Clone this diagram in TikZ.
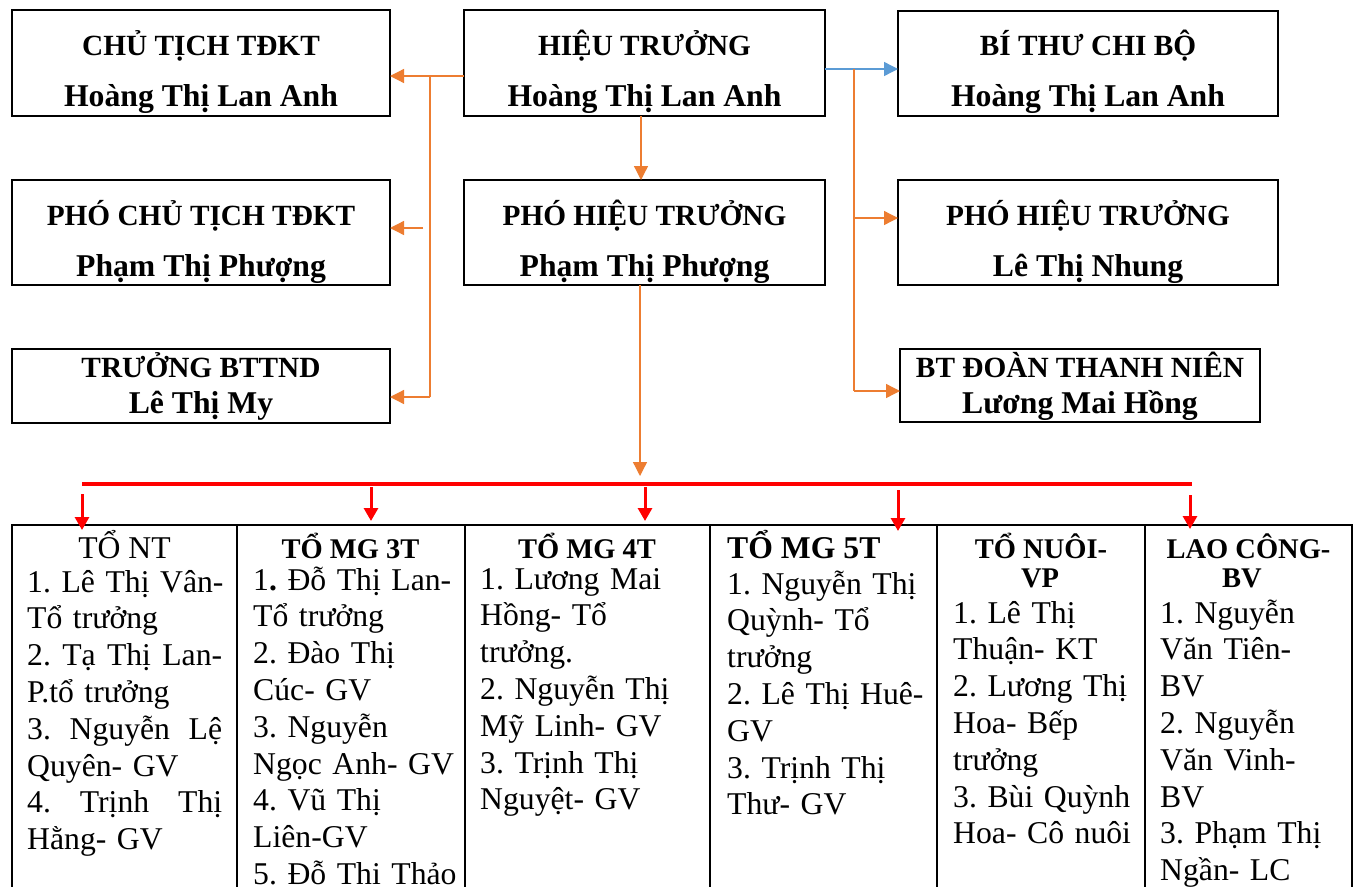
\documentclass[tikz,border=0pt]{standalone}
\usepackage{fontspec}
\setmainfont{Liberation Serif}
\usetikzlibrary{arrows.meta,calc}
\definecolor{ora}{RGB}{237,125,49}
\definecolor{blu}{RGB}{91,155,213}
\definecolor{redc}{RGB}{255,0,0}
\newcommand\jline[1]{\leavevmode\hbox to 195pt{#1}}
\newcommand\jg{\hspace{0pt plus 1fil}}
\frenchspacing
\begin{document}
\begin{tikzpicture}[x=1pt,y=-1pt,
  box/.style={draw=black,line width=2.6pt,inner sep=0pt,outer sep=0pt},
  btxt/.style={anchor=base,inner sep=0pt,font=\bfseries\fontsize{31.7}{36}\selectfont},
  bcap/.style={anchor=base,inner sep=0pt,font=\bfseries\fontsize{29.3}{36}\selectfont},
  oline/.style={draw=ora,line width=1.3pt},
  oarr/.style={oline,-{Triangle[length=14pt,width=14pt]}},
  barr/.style={draw=blu,line width=1.3pt,-{Triangle[length=14pt,width=14pt]}},
  rline/.style={draw=redc,line width=4pt},
  rarr/.style={draw=redc,line width=3pt,-{Triangle[length=13pt,width=14pt]}},
  cell/.style={draw=black,line width=1.6pt,inner sep=0pt,outer sep=0pt,anchor=north west,minimum height=420pt},
  ctxt/.style={anchor=base west,inner sep=0pt,align=left,font=\frenchspacing\fontsize{31.7}{36.8}\selectfont},
  hd/.style={anchor=base,inner sep=0pt,font=\bfseries\fontsize{28.5}{29}\selectfont}]
\useasboundingbox (0,0) rectangle (1356,886);
\fill[white] (0,0) rectangle (1356,886);

% top boxes
\node[box,minimum width=378pt,minimum height=106pt] (A) at (201,63) {};
\node[box,minimum width=361pt,minimum height=106pt] (B) at (644.5,63) {};
\node[box,minimum width=380pt,minimum height=105pt] (C) at (1088,63.5) {};
\node[box,minimum width=378pt,minimum height=105pt] (A2) at (201,232.5) {};
\node[box,minimum width=361pt,minimum height=105pt] (B2) at (644.5,232.5) {};
\node[box,minimum width=380pt,minimum height=105pt] (C2) at (1088,232.5) {};
\node[box,minimum width=378pt,minimum height=74pt] (A3) at (201,386) {};
\node[box,minimum width=360pt,minimum height=73pt] (C3) at (1080,385.5) {};

\node[bcap] (a1) at (201,55) {CHỦ TỊCH TĐKT};
\node[btxt] (a2) at (201,106) {Hoàng Thị Lan Anh};
\node[bcap] (b1) at (644.5,55) {HIỆU TRƯỞNG};
\node[btxt] (b2) at (644.5,106) {Hoàng Thị Lan Anh};
\node[bcap] (c1t) at (1088,55) {BÍ THƯ CHI BỘ};
\node[btxt] (c2t) at (1088,106) {Hoàng Thị Lan Anh};
\node[bcap] (a21) at (201,225) {PHÓ CHỦ TỊCH TĐKT};
\node[btxt] (a22) at (201,276) {Phạm Thị Phượng};
\node[bcap] (b21) at (644.5,225) {PHÓ HIỆU TRƯỞNG};
\node[btxt] (b22) at (644.5,276) {Phạm Thị Phượng};
\node[bcap] (c21) at (1088,225) {PHÓ HIỆU TRƯỞNG};
\node[btxt] (c22) at (1088,276) {Lê Thị Nhung};
\node[bcap] (a31) at (201,377) {TRƯỞNG BTTND};
\node[btxt] (a32) at (201,413) {Lê Thị My};
\node[bcap] (c31) at (1080,377) {BT ĐOÀN THANH NIÊN};
\node[btxt] (c32) at (1080,413) {Lương Mai Hồng};

% left connectors
\coordinate (jl) at (430,76);
\coordinate (jlm) at (423,228);
\coordinate (jl3) at (430,397);
\draw[oarr] (B.west |- jl) -- (A.east |- jl);
\draw[oline] (jl) -- (jl3);
\draw[oarr] (jlm) -- (A2.east |- jlm);
\draw[oarr] (jl3) -- (A3.east |- jl3);

% right connectors
\coordinate (jr) at (854,69);
\coordinate (jr2) at (854,218);
\coordinate (jr3) at (854,391);
\draw[barr] (B.east |- jr) -- (C.west |- jr);
\draw[oline] (jr) -- (jr3);
\draw[oarr] (jr2) -- (C2.west |- jr2);
\draw[oarr] (jr3) -- (C3.west |- jr3);

% middle
\coordinate (bx) at (641,0);
\draw[oarr] (B.south -| bx) -- (B2.north -| bx);
\coordinate (bus) at (640,476);
\draw[oarr] (B2.south -| bus) -- (bus);

% table cells
\node[cell,minimum width=225pt] (k1) at (12,525) {};
\node[cell,minimum width=228pt] (k2) at (237,525) {};
\node[cell,minimum width=245pt] (k3) at (465,525) {};
\node[cell,minimum width=227pt] (k4) at (710,525) {};
\node[cell,minimum width=208pt] (k5) at (937,525) {};
\node[cell,minimum width=207pt] (k6) at (1145,525) {};

% red bus
\coordinate (rb1) at (82,484);
\coordinate (rb2) at (1192,484);
\draw[rline] (rb1) -- (rb2);
\coordinate (r1s) at (82,494);   \coordinate (r1e) at (82,530);
\coordinate (r2s) at (371,487);  \coordinate (r2e) at (371,521);
\coordinate (r3s) at (645,487);  \coordinate (r3e) at (645,521);
\coordinate (r4s) at (898,490);  \coordinate (r4e) at (898,531);
\coordinate (r5s) at (1190,495); \coordinate (r5e) at (1190,529);
\draw[rarr] (r1s) -- (r1e);
\draw[rarr] (r2s) -- (r2e);
\draw[rarr] (r3s) -- (r3e);
\draw[rarr] (r4s) -- (r4e);
\draw[rarr] (r5s) -- (r5e);

% headers
\node[anchor=base,inner sep=0pt,font=\fontsize{31.7}{36}\selectfont] (h1) at (124.5,558) {TỔ NT};
\node[hd] (h2) at (350.5,558) {TỔ MG 3T};
\node[hd] (h3) at (587,558) {TỔ MG 4T};
\node[anchor=base west,inner sep=0pt,font=\bfseries\fontsize{31.7}{36}\selectfont] (h4) at (727,558) {TỔ MG 5T};
\node[hd] (h5) at (1041,558) {TỔ NUÔI-};
\node[hd] (h5b) at (1040,587) {VP};
\node[hd] (h6) at (1248.5,558) {LAO CÔNG-};
\node[hd] (h6b) at (1242,587) {BV};

% cell texts
\node[ctxt,text width=195pt] (t1) at (27,592) {\jline{1.\jg{} Lê\jg{} Thị\jg{} Vân-}\\Tổ trưởng\\\jline{2.\jg{} Tạ\jg{} Thị\jg{} Lan-}\\P.tổ trưởng\\\jline{3.\jg{} Nguyễn\jg{} Lệ}\\Quyên- GV\\\jline{4.\jg{} Trịnh\jg{} Thị}\\Hằng- GV};
\node[ctxt,text width=205pt] (t2) at (253,590) {1\textbf{.} Đỗ Thị Lan-\\Tổ trưởng\\2. Đào Thị\\Cúc- GV\\3. Nguyễn\\Ngọc Anh- GV\\4. Vũ Thị\\Liên-GV\\5. Đỗ Thi Thảo};
\node[ctxt,text width=220pt] (t3) at (480,589) {1. Lương Mai\\Hồng- Tổ\\trưởng.\\2. Nguyễn Thị\\Mỹ Linh- GV\\3. Trịnh Thị\\Nguyệt- GV};
\node[ctxt,text width=205pt] (t4) at (727,594) {1. Nguyễn Thị\\Quỳnh- Tổ\\trưởng\\2. Lê Thị Huê-\\GV\\3. Trịnh Thị\\Thư- GV};
\node[ctxt,text width=185pt] (t5) at (953,623) {1. Lê Thị\\Thuận- KT\\2. Lương Thị\\Hoa- Bếp\\trưởng\\3. Bùi Quỳnh\\Hoa- Cô nuôi};
\node[ctxt,text width=185pt] (t6) at (1160,623) {1. Nguyễn\\Văn Tiên-\\BV\\2. Nguyễn\\Văn Vinh-\\BV\\3. Phạm Thị\\Ngần- LC};
\end{tikzpicture}
\end{document}
